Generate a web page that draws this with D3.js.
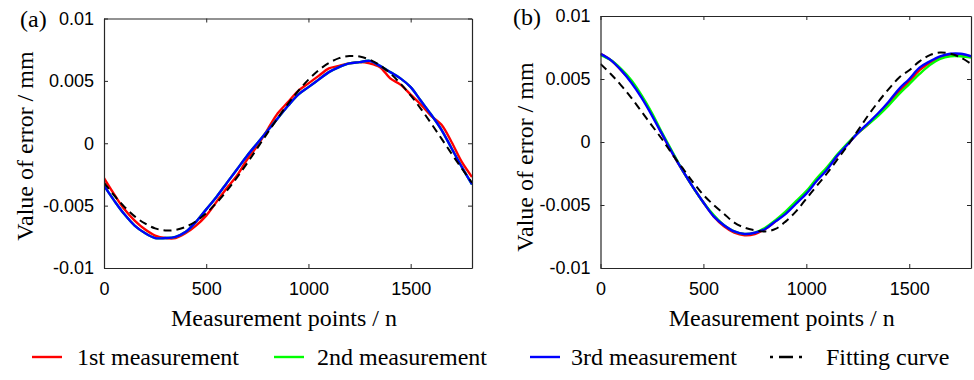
<!DOCTYPE html>
<html>
<head>
<meta charset="utf-8">
<script src="https://cdn.jsdelivr.net/npm/d3@7"></script>
<style>
  body { margin: 0; background: #fff; }
  text { fill: #000; }
</style>
</head>
<body>
<svg id="chart" width="974" height="380"></svg>
<script>
// measurement point index (x values of every series)
const pointsN = [0, 50, 100, 150, 200, 250, 300, 350, 400, 450, 500, 550, 600, 650, 700, 750, 800, 850, 900,
  950, 1000, 1050, 1100, 1150, 1200, 1250, 1300, 1350, 1400, 1450, 1500, 1550, 1600, 1650, 1700, 1750, 1800];

// panel (a) error values, mm
const a1st = [-0.0028, -0.0041, -0.0053, -0.0062, -0.0069, -0.0074, -0.0076, -0.0076, -0.0072, -0.0066, -0.0058,
  -0.0047, -0.0036, -0.0026, -0.0013, -0.0002, 0.0011, 0.0024, 0.0033, 0.0042, 0.0048, 0.0054, 0.0060, 0.0062,
  0.0064, 0.0065, 0.0064, 0.0061, 0.0052, 0.0047, 0.0039, 0.0031, 0.0022, 0.0015, 0.0001, -0.0015, -0.0027];
const a2nd = [-0.0034, -0.0046, -0.0057, -0.0066, -0.0072, -0.0076, -0.0076, -0.0075, -0.0071, -0.0063, -0.0053,
  -0.0043, -0.0032, -0.0021, -0.0010, 0.0000, 0.0010, 0.0020, 0.0030, 0.0039, 0.0045, 0.0051, 0.0057, 0.0061,
  0.0064, 0.0065, 0.0066, 0.0062, 0.0057, 0.0052, 0.0045, 0.0034, 0.0023, 0.0011, -0.0004, -0.0019, -0.0033];
const a3rd = [-0.0034, -0.0046, -0.0057, -0.0066, -0.0072, -0.0076, -0.0076, -0.0075, -0.0071, -0.0063, -0.0053,
  -0.0043, -0.0032, -0.0021, -0.0010, 0.0000, 0.0010, 0.0020, 0.0030, 0.0039, 0.0045, 0.0051, 0.0057, 0.0061,
  0.0064, 0.0065, 0.0066, 0.0062, 0.0057, 0.0052, 0.0045, 0.0034, 0.0023, 0.0011, -0.0004, -0.0019, -0.0033];
const aFit = [-0.00316, -0.00419, -0.00510, -0.00586, -0.00643, -0.00682, -0.00699, -0.00695, -0.00670, -0.00625,
  -0.00560, -0.00479, -0.00383, -0.00276, -0.00160, -0.00039, 0.00083, 0.00202, 0.00316, 0.00419, 0.00510,
  0.00586, 0.00643, 0.00682, 0.00699, 0.00695, 0.00670, 0.00625, 0.00560, 0.00479, 0.00383, 0.00276, 0.00160,
  0.00039, -0.00083, -0.00202, -0.00316];

// panel (b) error values, mm
const b1st = [0.0070, 0.0065, 0.0057, 0.0048, 0.0036, 0.0022, 0.0006, -0.0009, -0.0023, -0.0036, -0.0048, -0.0059,
  -0.0067, -0.0072, -0.0074, -0.0073, -0.0069, -0.0063, -0.0056, -0.0048, -0.0040, -0.0030, -0.0021, -0.0011,
  -0.0002, 0.0007, 0.0014, 0.0022, 0.0031, 0.0040, 0.0048, 0.0057, 0.0063, 0.0067, 0.0069, 0.0069, 0.0068];
const b2nd = [0.0069, 0.0065, 0.0058, 0.0049, 0.0037, 0.0023, 0.0007, -0.0008, -0.0023, -0.0036, -0.0048, -0.0058,
  -0.0066, -0.0071, -0.0073, -0.0072, -0.0068, -0.0062, -0.0055, -0.0047, -0.0039, -0.0029, -0.0020, -0.0010,
  -0.0001, 0.0007, 0.0014, 0.0021, 0.0029, 0.0038, 0.0046, 0.0054, 0.0061, 0.0066, 0.0068, 0.0068, 0.0067];
const b3rd = [0.0070, 0.0065, 0.0057, 0.0047, 0.0035, 0.0021, 0.0006, -0.0009, -0.0023, -0.0036, -0.0048, -0.0059,
  -0.0066, -0.0071, -0.0073, -0.0072, -0.0069, -0.0063, -0.0057, -0.0049, -0.0041, -0.0031, -0.0022, -0.0011,
  -0.0002, 0.0007, 0.0015, 0.0023, 0.0032, 0.0042, 0.0050, 0.0059, 0.0064, 0.0068, 0.0070, 0.0070, 0.0068];
const bFit = [0.0062, 0.0054, 0.0045, 0.0035, 0.0024, 0.0013, 0.0002, -0.0010, -0.0021, -0.0032, -0.0042, -0.0050,
  -0.0057, -0.0064, -0.0068, -0.0070, -0.0071, -0.0069, -0.0063, -0.0055, -0.0045, -0.0035, -0.0025, -0.0014,
  -0.0003, 0.0009, 0.0021, 0.0032, 0.0042, 0.0051, 0.0057, 0.0064, 0.0069, 0.0071, 0.0070, 0.0067, 0.0062];

const xTicks = [0, 500, 1000, 1500];
const yTicks = [-0.01, -0.005, 0, 0.005, 0.01];
const yTickLabels = ["-0.01", "-0.005", "0", "0.005", "0.01"];
const seriesNames = ["1st measurement", "2nd measurement", "3rd measurement", "Fitting curve"];
const seriesColors = ["#ff0000", "#00ff00", "#0000ff", "#000000"];

const svg = d3.select("#chart");
const axisColor = "#262626";
const serif = "'Liberation Serif', 'Times New Roman', serif";

function drawPanel(p) {
  const x = d3.scaleLinear().domain([0, 1800]).range([p.left, p.right]);
  const y = d3.scaleLinear().domain([-0.01, 0.01]).range([p.bottom, p.top]);
  const g = svg.append("g");

  g.append("clipPath").attr("id", "clip" + p.id)
    .append("rect")
    .attr("x", p.left).attr("y", p.top)
    .attr("width", p.right - p.left).attr("height", p.bottom - p.top);

  const line = d3.line()
    .x((d, i) => x(pointsN[i]))
    .y(d => y(d))
    .curve(d3.curveCatmullRom);

  const lines = g.append("g").attr("clip-path", "url(#clip" + p.id + ")");
  p.series.forEach((s, k) => {
    lines.append("path")
      .attr("d", line(s))
      .attr("fill", "none")
      .attr("stroke", seriesColors[k])
      .attr("stroke-width", k === 3 ? 2 : 2.4)
      .attr("stroke-dasharray", k === 3 ? "8,5" : null);
  });

  // inward ticks on all four sides (box on)
  const bottom = g.append("g").attr("transform", `translate(0,${p.bottom})`)
    .call(d3.axisBottom(x).tickValues(xTicks).tickSizeInner(-4).tickSizeOuter(0).tickPadding(14)
      .tickFormat(d3.format("d")));
  const top = g.append("g").attr("transform", `translate(0,${p.top})`)
    .call(d3.axisTop(x).tickValues(xTicks).tickSizeInner(-4).tickSizeOuter(0).tickFormat(""));
  const left = g.append("g").attr("transform", `translate(${p.left},0)`)
    .call(d3.axisLeft(y).tickValues(yTicks).tickSizeInner(-4).tickSizeOuter(0).tickPadding(10)
      .tickFormat((d, i) => yTickLabels[i]));
  const right = g.append("g").attr("transform", `translate(${p.right},0)`)
    .call(d3.axisRight(y).tickValues(yTicks).tickSizeInner(-4).tickSizeOuter(0).tickFormat(""));

  [bottom, top, left, right].forEach(a => {
    a.selectAll("path.domain").attr("stroke", axisColor).attr("stroke-width", 1.2);
    a.selectAll(".tick line").attr("stroke", axisColor);
    a.selectAll(".tick text")
      .style("font-family", "'Liberation Sans', Arial, sans-serif")
      .style("font-size", "18px")
      .attr("fill", axisColor);
  });

  g.append("text")
    .attr("x", (p.left + p.right) / 2 - 4)
    .attr("y", 326)
    .attr("text-anchor", "middle")
    .style("font-family", serif)
    .style("font-size", "24px")
    .text("Measurement points / n");

  g.append("text")
    .attr("transform", `translate(${p.titleX},${p.titleY}) rotate(-90)`)
    .attr("text-anchor", "middle")
    .style("font-family", serif)
    .style("font-size", "24px")
    .text("Value of error / mm");

  g.append("text")
    .attr("x", p.tagX).attr("y", p.tagY)
    .style("font-family", serif)
    .style("font-size", "24px")
    .text(p.tag);
}

drawPanel({ id: "a", tag: "(a)", tagX: 20, tagY: 27, left: 104, right: 472, top: 18.5, bottom: 268,
  titleX: 33, titleY: 146, series: [a1st, a2nd, a3rd, aFit] });
drawPanel({ id: "b", tag: "(b)", tagX: 513, tagY: 25, left: 600.5, right: 971, top: 16, bottom: 268,
  titleX: 533, titleY: 157, series: [b1st, b2nd, b3rd, bFit] });

// legend
const legendLineX = [32, 274, 530, 770];
const legendTextX = [77, 317, 571, 826];
const legend = svg.append("g");
seriesNames.forEach((name, k) => {
  legend.append("line")
    .attr("x1", legendLineX[k]).attr("x2", legendLineX[k] + (k === 3 ? 34 : 30))
    .attr("y1", 357).attr("y2", 357)
    .attr("stroke", seriesColors[k])
    .attr("stroke-width", 2.4)
    .attr("stroke-dasharray", k === 3 ? "3,6,14,6,3" : null);
  legend.append("text")
    .attr("x", legendTextX[k]).attr("y", 365)
    .style("font-family", serif)
    .style("font-size", "24px")
    .text(name);
});
</script>
</body>
</html>
